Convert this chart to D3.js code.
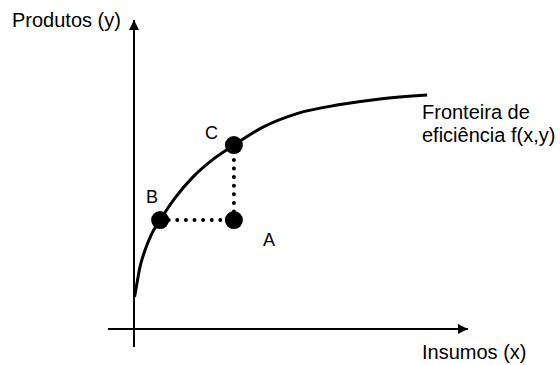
<!DOCTYPE html>
<html>
<head>
<meta charset="utf-8">
<script src="https://cdn.jsdelivr.net/npm/d3@7"></script>
<style>
  body { margin: 0; background: #fff; }
  text { font-family: "Liberation Sans", Arial, sans-serif; fill: #000; }
</style>
</head>
<body>
<script>
// frontier curve (arbitrary units 0-100)
const frontierX = [0.2, 1, 2, 3.7, 5.7, 8.7, 13.7, 19.7, 26, 33.3, 43, 54.3, 68.7, 82, 97.7];
const frontierY = [10.7, 15.3, 20.7, 26.3, 31.3, 36.3, 43.7, 50.7, 56.3, 61.3, 67.3, 71.8, 74.8, 76.7, 78];

const pointNames = ["A", "B", "C"];
const pointX = [33.3, 8.7, 33.3];
const pointY = [36.3, 36.3, 61.3];

const yTitle = "Produtos (y)";
const xTitle = "Insumos (x)";
const curveLabel = ["Fronteira de", "eficiência f(x,y)"];

const w = 560;
const h = 365;

const x = d3.scaleLinear().domain([0, 100]).range([134, 434]);
const y = d3.scaleLinear().domain([0, 100]).range([329, 29]);

const svg = d3.select("body").append("svg")
  .attr("width", w)
  .attr("height", h);

svg.append("defs").append("marker")
  .attr("id", "arrow")
  .attr("viewBox", "0 0 10 10")
  .attr("refX", 10)
  .attr("refY", 5)
  .attr("markerWidth", 10)
  .attr("markerHeight", 10)
  .attr("markerUnits", "userSpaceOnUse")
  .attr("orient", "auto")
  .append("path")
  .attr("d", "M0,0L10,5L0,10Z")
  .attr("fill", "#000");

// axes
svg.append("line")
  .attr("x1", x(-8.7)).attr("y1", y(0))
  .attr("x2", x(111.3)).attr("y2", y(0))
  .attr("stroke", "#000").attr("stroke-width", 2)
  .attr("marker-end", "url(#arrow)");

svg.append("line")
  .attr("x1", x(0)).attr("y1", y(-6))
  .attr("x2", x(0)).attr("y2", y(103))
  .attr("stroke", "#000").attr("stroke-width", 2)
  .attr("marker-end", "url(#arrow)");

// frontier
const line = d3.line()
  .x(d => x(d[0]))
  .y(d => y(d[1]))
  .curve(d3.curveMonotoneX);

svg.append("path")
  .datum(d3.zip(frontierX, frontierY))
  .attr("d", line)
  .attr("fill", "none")
  .attr("stroke", "#000")
  .attr("stroke-width", 3);

// dotted projections A -> B and A -> C
const pts = pointNames.map((n, i) => ({ name: n, x: pointX[i], y: pointY[i] }));
const A = pts[0], B = pts[1], C = pts[2];

[[B, A], [A, C]].forEach(([p, q]) => {
  svg.append("line")
    .attr("x1", x(p.x)).attr("y1", y(p.y))
    .attr("x2", x(q.x)).attr("y2", y(q.y))
    .attr("stroke", "#000")
    .attr("stroke-width", 4)
    .attr("stroke-linecap", "round")
    .attr("stroke-dasharray", "0 8.6");
});

svg.selectAll("circle.pt")
  .data(pts)
  .enter()
  .append("circle")
  .attr("class", "pt")
  .attr("cx", d => x(d.x))
  .attr("cy", d => y(d.y))
  .attr("r", 9)
  .attr("fill", "#000");

const labelOffset = { A: [29, 26], B: [-14, -17], C: [-29, -6] };
svg.selectAll("text.pt")
  .data(pts)
  .enter()
  .append("text")
  .attr("class", "pt")
  .attr("x", d => x(d.x) + labelOffset[d.name][0])
  .attr("y", d => y(d.y) + labelOffset[d.name][1])
  .attr("font-size", 18)
  .text(d => d.name);

// titles
svg.append("text")
  .attr("x", 12).attr("y", 27)
  .attr("font-size", 20)
  .text(yTitle);

svg.append("text")
  .attr("x", 422).attr("y", 359)
  .attr("font-size", 20)
  .text(xTitle);

svg.append("text")
  .attr("font-size", 20)
  .selectAll("tspan")
  .data(curveLabel)
  .enter()
  .append("tspan")
  .attr("x", 422)
  .attr("y", (d, i) => 119 + i * 23)
  .text(d => d);
</script>
</body>
</html>
